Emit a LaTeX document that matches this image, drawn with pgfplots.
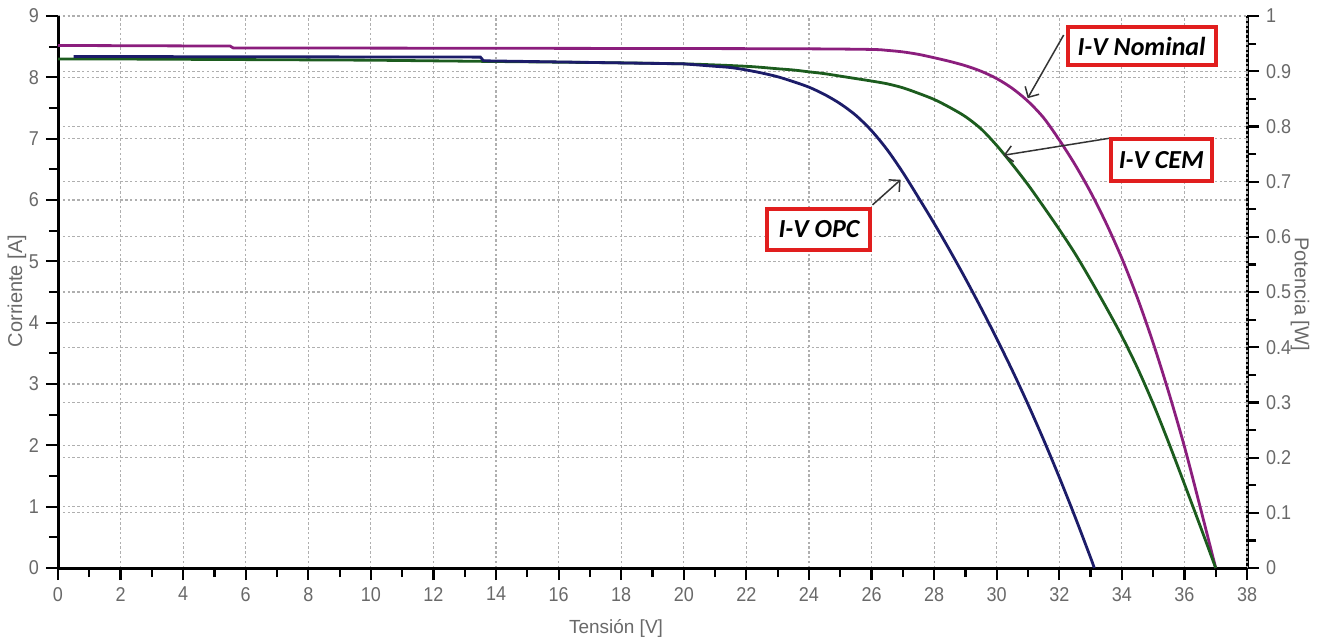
\documentclass[border=0pt]{standalone}
\usepackage{fontspec}
\setmainfont{Liberation Sans}
\newfontfamily\tickfont[FakeStretch=0.9]{Liberation Sans}
\newfontfamily\boxfont{Carlito}
\usepackage{pgfplots}
\pgfplotsset{compat=1.18}
\usetikzlibrary{arrows.meta}
\definecolor{nomc}{RGB}{139,30,125}
\definecolor{cemc}{RGB}{28,92,30}
\definecolor{opcc}{RGB}{28,28,105}
\definecolor{tickgray}{RGB}{105,105,105}
\definecolor{gridgray}{RGB}{175,175,175}
\definecolor{boxred}{RGB}{225,30,30}
\begin{document}
\begin{tikzpicture}
\useasboundingbox (0,0) rectangle (663.5pt,319.5pt);
\pgfplotsset{
  common/.style={
    scale only axis, width=594.5pt, height=276pt,
    at={(29pt,35.5pt)}, anchor=south west,
    xmin=0, xmax=38,
    tick align=outside,
    major tick length=6pt, minor tick length=4.5pt,
    every tick/.style={black, line width=1.1pt},
    axis line style={-, black, line width=1.5pt},
    tick label style={font=\tickfont\fontsize{10}{12}\selectfont, text=tickgray},
    /pgf/number format/assume math mode=true,
    major grid style={gridgray, line width=0.6pt, dash pattern=on 1.2pt off 1.2pt},
  }
}
% right axis (power)
\begin{axis}[common,
  axis x line=none, axis y line*=right,
  xtick=\empty,
  ymin=0, ymax=1,
  ytick={0,0.1,0.2,0.3,0.4,0.5,0.6,0.7,0.8,0.9,1},
  yticklabels={0,0.1,0.2,0.3,0.4,0.5,0.6,0.7,0.8,0.9,1},
  minor y tick num=1,
  ymajorgrids,
]
\addplot[draw=none] coordinates {(0,0)};
\end{axis}
% left axis (current)
\begin{axis}[common,
  axis x line*=bottom, axis y line*=left,
  ymin=0, ymax=9,
  xtick={0,2,...,38}, ytick={0,1,...,9},
  minor x tick num=1, minor y tick num=1,
  xmajorgrids, ymajorgrids,
  clip=false,
]
% I-V Nominal
\addplot[nomc, line width=1.4pt] coordinates {
(0,8.52) (5.5,8.51) (5.6,8.48) (20,8.47)
};
\addplot[nomc, line width=1.4pt, smooth, tension=0.5] coordinates {
(20,8.47) (24,8.465) (26.0,8.455) (26.5,8.44) (27.0,8.415) (27.5,8.375)
(28.0,8.32) (28.5,8.26) (29.0,8.19) (29.5,8.10) (30.0,7.98) (30.5,7.82)
(31.0,7.61) (31.5,7.34) (32.0,6.98) (32.5,6.58) (33.0,6.13) (33.5,5.62)
(34.0,5.05) (34.5,4.40) (35.0,3.67) (35.5,2.86) (36.0,1.98) (36.5,1.00)
(37.0,0)
};
% I-V CEM
\addplot[cemc, line width=1.4pt] coordinates {
(0,8.30) (1.5,8.30) (10,8.28) (17.4,8.24)
};
\addplot[cemc, line width=1.4pt, smooth, tension=0.5] coordinates {
(17.4,8.24) (20,8.22) (22,8.18) (23.0,8.14) (23.5,8.12) (24.0,8.09)
(24.5,8.06) (25.0,8.02) (25.5,7.98) (26.0,7.94) (26.5,7.895) (27.0,7.83)
(27.5,7.74) (28.0,7.64) (28.5,7.51) (29.0,7.36) (29.5,7.16) (30.0,6.89)
(30.5,6.58) (31.0,6.25) (31.5,5.89) (32.0,5.52) (32.5,5.13) (33.0,4.70)
(33.5,4.25) (34.0,3.78) (34.5,3.26) (35.0,2.68) (35.5,2.04) (36.0,1.37)
(36.5,0.69) (37.0,0)
};
% I-V OPC
\addplot[opcc, line width=1.4pt] coordinates {
(0.5,8.34) (13.5,8.33) (13.6,8.27) (20,8.22)
};
\addplot[opcc, line width=1.4pt, smooth, tension=0.5] coordinates {
(20.0,8.22) (20.5,8.20) (21.0,8.18) (21.5,8.16) (22.0,8.12) (22.5,8.07)
(23.0,8.01) (23.5,7.93) (24.0,7.84) (24.5,7.72) (25.0,7.57) (25.5,7.38)
(26.0,7.13) (26.5,6.82) (27.0,6.45) (27.5,6.04) (28.0,5.62) (28.5,5.18)
(29.0,4.72) (29.5,4.24) (30.0,3.74) (30.5,3.22) (31.0,2.67) (31.5,2.09)
(32.0,1.48) (32.5,0.84) (33.0,0.17) (33.12,0)
};
% annotations
\draw[black!80, line width=0.75pt, -{Straight Barb[length=4pt]}] (axis cs:32.14,8.69) -- (axis cs:30.99,7.66);
\draw[black!80, line width=0.75pt, -{Straight Barb[length=4pt]}] (axis cs:33.64,7.01) -- (axis cs:30.22,6.73);
\draw[black!80, line width=0.75pt, -{Straight Barb[length=4pt]}] (axis cs:26.03,5.92) -- (axis cs:26.93,6.33);
\node[draw=boxred, line width=2pt, fill=white, minimum width=74pt, minimum height=19pt, inner sep=0pt,
  font=\boxfont\bfseries\itshape\fontsize{13}{15}\selectfont] at (axis cs:34.63,8.51) {I-V Nominal};
\node[draw=boxred, line width=2pt, fill=white, minimum width=50.5pt, minimum height=21pt, inner sep=0pt,
  font=\boxfont\bfseries\itshape\fontsize{13}{15}\selectfont] at (axis cs:35.26,6.65) {I-V CEM};
\node[draw=boxred, line width=2pt, fill=white, minimum width=51.5pt, minimum height=20.5pt, inner sep=0pt,
  font=\boxfont\bfseries\itshape\fontsize{13}{15}\selectfont] at (axis cs:24.32,5.52) {I-V OPC};
\end{axis}
\node[rotate=90, text=tickgray, font=\fontsize{10}{12}\selectfont] at (8.5pt,174pt) {Corriente [A]};
\node[rotate=-90, text=tickgray, font=\fontsize{10}{12}\selectfont] at (650pt,172.5pt) {Potencia [W]};
\node[text=tickgray, font=\fontsize{9.5}{11}\selectfont] at (308pt,5.5pt) {Tensión [V]};
\end{tikzpicture}
\end{document}
